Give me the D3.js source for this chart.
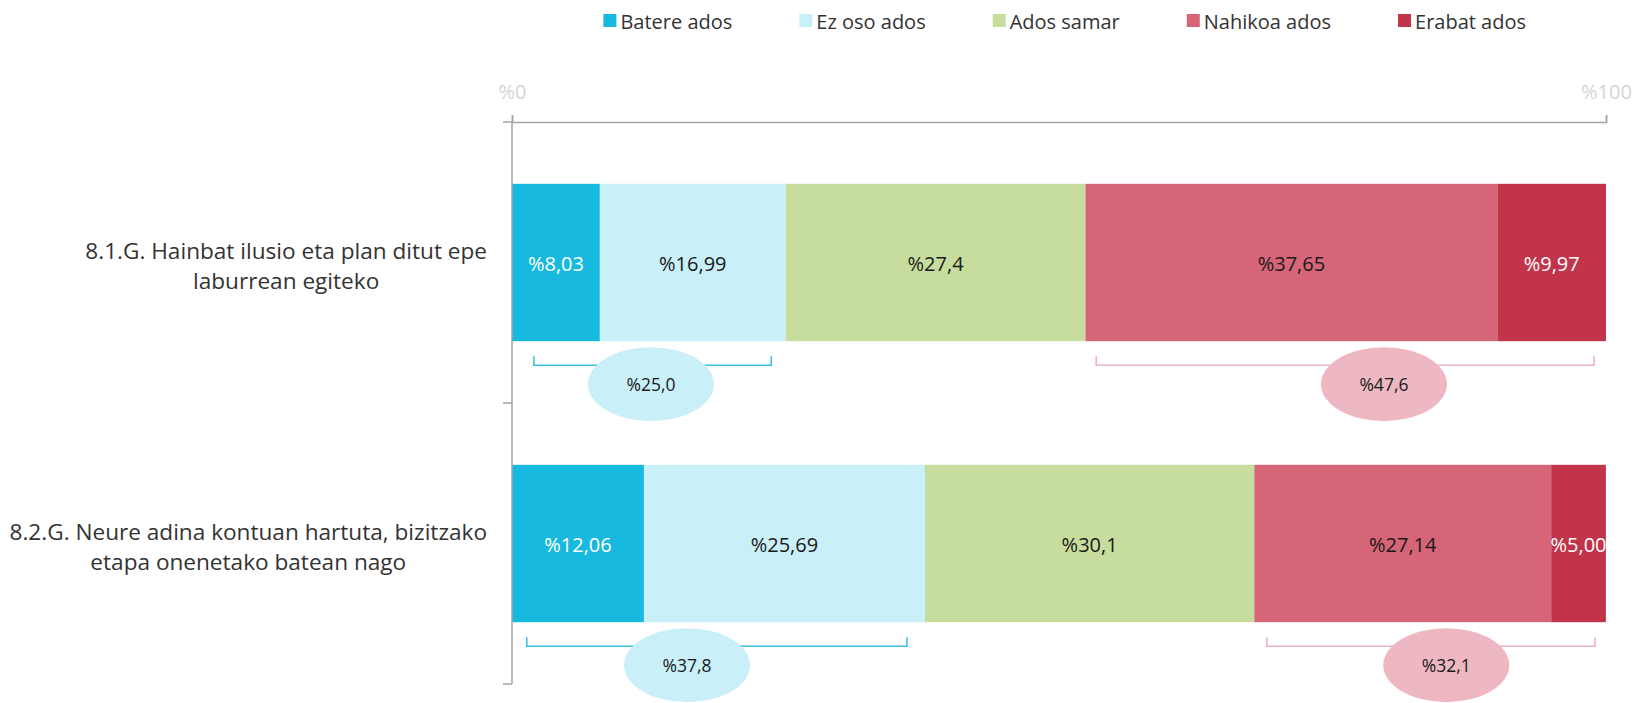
<!DOCTYPE html>
<html>
<head>
<meta charset="utf-8">
<script src="https://cdn.jsdelivr.net/npm/d3@7"></script>
<style>
  html, body { margin: 0; padding: 0; background: #ffffff; }
  svg { display: block; }
  text { font-family: "Open Sans", "Noto Sans", sans-serif; }
</style>
</head>
<body>
<svg id="chart" width="1635" height="703"></svg>
<script>
// ---------- data ----------
const categories = ["8.1.G", "8.2.G"];
const categoryLines = [
  ["8.1.G. Hainbat ilusio eta plan ditut epe", "laburrean egiteko"],
  ["8.2.G. Neure adina kontuan hartuta, bizitzako", "etapa onenetako batean nago"]
];
const seriesNames = ["Batere ados", "Ez oso ados", "Ados samar", "Nahikoa ados", "Erabat ados"];
const bateregAdos = [8.03, 12.06];
const ezOsoAdos   = [16.99, 25.69];
const adosSamar   = [27.4, 30.1];
const nahikoaAdos = [37.65, 27.14];
const erabatAdos  = [9.97, 5.00];
const seriesValues = [bateregAdos, ezOsoAdos, adosSamar, nahikoaAdos, erabatAdos];
const valueLabels = [
  ["%8,03", "%12,06"],
  ["%16,99", "%25,69"],
  ["%27,4", "%30,1"],
  ["%37,65", "%27,14"],
  ["%9,97", "%5,00"]
];
const axisTicks = [0, 100];
// summary annotations (domain units, %)
const disagreeFrom = [2.0, 1.35], disagreeTo = [23.7, 36.1], disagreeBubble = [12.7, 16.0];
const agreeFrom = [53.4, 69.0],  agreeTo = [98.9, 99.0],   agreeBubble = [79.7, 85.4];

// ---------- styles ----------
const colors = ["#18b9df", "#c9eff8", "#c6dd9e", "#d66577", "#c1344a"];
const labelColors = ["#ffffff", "#1a1a1a", "#1a1a1a", "#1a1a1a", "#ffffff"];

const svg = d3.select("#chart");
const x = d3.scaleLinear().domain([0, 100]).range([512, 1606]);
const y = d3.scaleBand().domain(categories).range([122, 684]).paddingInner(0.44).paddingOuter(0.22);
const axisColor = "#a3a3a3";

// stacked data
const stacked = categories.map((c, i) => {
  let acc = 0;
  return seriesValues.map((vals, s) => {
    const d = { cat: c, i, s, x0: acc, x1: acc + vals[i], label: valueLabels[s][i] };
    acc += vals[i];
    return d;
  });
}).flat();

// bars
svg.append("g").selectAll("rect").data(stacked).join("rect")
  .attr("x", d => x(d.x0))
  .attr("y", d => y(d.cat))
  .attr("width", d => Math.min(x(d.x1), x(100)) - x(d.x0))
  .attr("height", y.bandwidth())
  .attr("fill", d => colors[d.s]);

svg.append("g").selectAll("text").data(stacked).join("text")
  .attr("x", d => (x(d.x0) + Math.min(x(d.x1), x(100))) / 2)
  .attr("y", d => y(d.cat) + y.bandwidth() / 2 + 1)
  .attr("text-anchor", "middle")
  .attr("dominant-baseline", "central")
  .attr("font-size", 20)
  .attr("fill", d => labelColors[d.s])
  .text(d => d.label);

// x axis (top)
const xAxis = svg.append("g")
  .attr("transform", `translate(0,${y.range()[0]})`)
  .call(d3.axisTop(x).tickValues(axisTicks).tickSize(7).tickPadding(16).tickFormat(d => "%" + d));
xAxis.selectAll("path, line").attr("stroke", axisColor).attr("stroke-width", 1.5);
xAxis.selectAll("text").attr("font-size", 20).attr("fill", "#d4d4d4")
  .attr("font-family", "'Open Sans', sans-serif");

// y axis (left) with boundary ticks
const step = y.step();
const boundaries = d3.range(categories.length + 1).map(k => y.range()[0] + k * step);
const yAxisG = svg.append("g");
yAxisG.append("line")
  .attr("x1", x(0)).attr("x2", x(0))
  .attr("y1", y.range()[0]).attr("y2", y.range()[1])
  .attr("stroke", axisColor).attr("stroke-width", 1.5);
yAxisG.selectAll("line.tick").data(boundaries).join("line")
  .attr("class", "tick")
  .attr("x1", x(0) - 9).attr("x2", x(0))
  .attr("y1", d => d).attr("y2", d => d)
  .attr("stroke", axisColor).attr("stroke-width", 1.5);

// category labels
const catG = svg.append("g");
categories.forEach((c, i) => {
  const cy = y(c) + y.bandwidth() / 2 + 3;
  const lines = categoryLines[i];
  const t = catG.append("text").attr("font-size", 22.6).attr("fill", "#333333").attr("text-anchor", "middle");
  const lh = 30;
  lines.forEach((ln, k) => {
    t.append("tspan").attr("x", 0)
      .attr("y", cy + (k - (lines.length - 1) / 2) * lh)
      .attr("dominant-baseline", "central")
      .text(ln);
  });
  const w = d3.max(t.selectAll("tspan").nodes(), n => n.getComputedTextLength());
  t.attr("transform", `translate(${487 - w / 2},0)`);
});

// summary brackets + bubbles
const fmt1 = v => (Math.round(v * 10 + 1e-7) / 10).toFixed(1).replace(".", ",");
const summaries = [];
categories.forEach((c, i) => {
  summaries.push({ cat: c, from: disagreeFrom[i], to: disagreeTo[i], at: disagreeBubble[i],
    value: bateregAdos[i] + ezOsoAdos[i], stroke: "#3fc1e1", fill: "#c9eff8" });
  summaries.push({ cat: c, from: agreeFrom[i], to: agreeTo[i], at: agreeBubble[i],
    value: nahikoaAdos[i] + erabatAdos[i], stroke: "#edb3bd", fill: "#edb8c2" });
});
const sg = svg.append("g");
summaries.forEach(d => {
  const b = y(d.cat) + y.bandwidth();
  const top = b + 15, bot = b + 24;
  sg.append("path")
    .attr("d", `M${x(d.from)},${top}V${bot}H${x(d.to)}V${top}`)
    .attr("fill", "none").attr("stroke", d.stroke).attr("stroke-width", 1.6);
  sg.append("ellipse")
    .attr("cx", x(d.at)).attr("cy", b + 43).attr("rx", 63).attr("ry", 37)
    .attr("fill", d.fill);
  sg.append("text")
    .attr("x", x(d.at)).attr("y", b + 43)
    .attr("text-anchor", "middle").attr("dominant-baseline", "central")
    .attr("font-size", 17.5).attr("fill", "#1a1a1a")
    .text("%" + fmt1(d.value));
});

// legend
const lg = svg.append("g");
let lx = 603.4;
seriesNames.forEach((name, s) => {
  lg.append("rect").attr("x", lx).attr("y", 14).attr("width", 13).attr("height", 13).attr("fill", colors[s]);
  const t = lg.append("text").attr("x", lx + 17).attr("y", 21)
    .attr("dominant-baseline", "central").attr("font-size", 20).attr("fill", "#333333").text(name);
  lx += 17 + t.node().getComputedTextLength() + 67;
});
</script>
</body>
</html>
